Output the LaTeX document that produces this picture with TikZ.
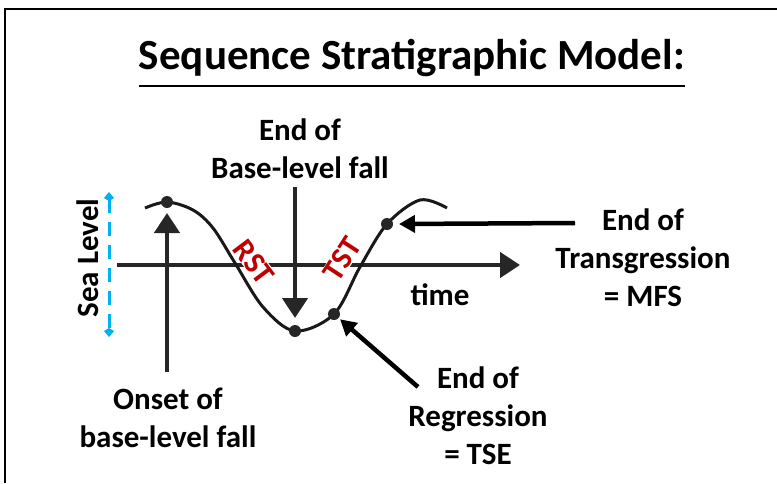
\documentclass[tikz,border=0pt]{standalone}
\usepackage{fontspec}
\setmainfont{Carlito}
\usepackage{tikz}
\usetikzlibrary{arrows.meta, positioning, calc}
\definecolor{sealevelblue}{HTML}{00B0F0}
\definecolor{tractred}{HTML}{C00000}

\begin{document}
\begin{tikzpicture}[
  x=1pt, y=-1pt,
  lbl/.style={font=\fontsize{31}{38}\selectfont\bfseries, align=center, inner sep=0pt},
  tractlbl/.style={font=\fontsize{31}{34}\selectfont\bfseries, text=tractred, fill=white, inner sep=0.5pt},
  grayarr/.style={-{Triangle[width=25pt, length=20pt]}, line width=4.5pt, draw=black!85, fill=black!75},
  blackarr/.style={-{Triangle[width=17pt, length=16pt]}, line width=4.5pt, draw=black},
  dot/.style={circle, fill=black!85, inner sep=0pt, minimum size=12pt},
]
% frame and bounding box
\path[use as bounding box] (0,0) rectangle (777,483);
\draw[line width=2pt] (5,483) -- (5,9) -- (777,9);

% title
\node[font=\fontsize{43}{50}\selectfont\bfseries, inner sep=0pt, anchor=base] (title) at (412,69) {Sequence Stratigraphic Model:};
\draw[line width=2.5pt] ([yshift=-17pt]title.base west) -- ([yshift=-17pt]title.base east);

% axes
\draw[grayarr] (117,265) -- (520,265);
\node[lbl, anchor=base] (time) at (440,305) {time};
\draw[{Kite[length=9pt, width=10pt, inset=3pt]}-{Kite[length=9pt, width=10pt, inset=3pt]}, sealevelblue, line width=3pt, dash pattern=on 14pt off 9pt] (109,192) -- (109,337);
\node[lbl, rotate=90, anchor=base] (sealevel) at (98,258) {Sea Level};

% systems tract labels (white fill breaks the axis)
\node[tractlbl, rotate=-53] (rst) at (254,262) {RST};
\node[tractlbl, rotate=57] (tst) at (342,259) {TST};

% sea-level curve
\coordinate (pk) at (167,202);
\coordinate (tr) at (295,331);
\coordinate (er) at (334,314);
\coordinate (et) at (387,224);
\draw[line width=3pt, black!90] plot[smooth, tension=0.55] coordinates {(145,208) (pk) (193,210) (213,228) (235,263) (263,307) (tr) (er) (360,267) (et) (420,200) (447,208)};
\foreach \p in {pk, tr, er, et}
  \node[dot] at (\p) {};

% labels
\node[lbl, anchor=north] (blfall) at (300,119) {End of\\Base-level fall};
\node[lbl, anchor=north] (mfs) at (643,209) {End of\\Transgression\\= MFS};
\node[lbl, anchor=north] (tse) at (478,367) {End of\\Regression\\= TSE};
\node[lbl, anchor=north] (onset) at (168,388) {Onset of\\base-level fall};

% arrow tails
\coordinate (mfstail) at (575,223);
\coordinate (tsetail) at (418,387);

% arrows
\draw[grayarr] ([yshift=16pt]onset.north -| pk) -- ([yshift=-11pt]pk);
\draw[grayarr] ([yshift=-8pt]blfall.south -| tr) -- ([yshift=13pt]tr);
\draw[blackarr] (mfstail) -- ([xshift=12pt]et);
\draw[blackarr] (tsetail) -- ($(er)!8pt!(tsetail)$);
\end{tikzpicture}
\end{document}
